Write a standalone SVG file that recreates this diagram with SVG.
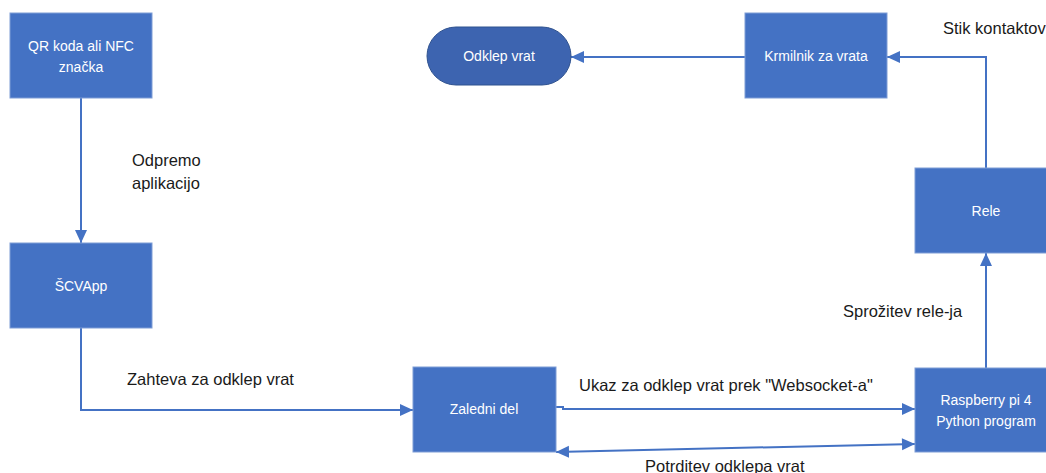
<svg xmlns="http://www.w3.org/2000/svg" width="1046" height="473" viewBox="0 0 1046 473">
<style>
.box{fill:#4472C4;stroke:#7E9DD6;stroke-width:1}
.pill{fill:#3D64B0;stroke:#2F528F;stroke-width:1}
.bt{font-family:"Liberation Sans",Arial,sans-serif;font-size:14px;fill:#ffffff;text-anchor:middle}
.lbl{font-family:"Liberation Sans",Arial,sans-serif;font-size:16.5px;fill:#1a1a1a}
.con{fill:none;stroke:#4472C4;stroke-width:2}
</style>
<defs>
<marker id="ah" markerUnits="userSpaceOnUse" markerWidth="14" markerHeight="14" refX="13" refY="7" orient="auto">
<path d="M0,1 L13,7 L0,13 Z" fill="#4472C4"/>
</marker>
<marker id="as" markerUnits="userSpaceOnUse" markerWidth="14" markerHeight="14" refX="0" refY="7" orient="auto">
<path d="M13,1 L0,7 L13,13 Z" fill="#4472C4"/>
</marker>
</defs>
<rect width="1046" height="473" fill="#ffffff"/>
<g id="connectors">
<path class="con" d="M81,98 V243" marker-end="url(#ah)"/>
<path class="con" d="M81,328 V410 H413" marker-end="url(#ah)"/>
<path class="con" d="M556,407 H563 V409 H915" marker-end="url(#ah)"/>
<path class="con" d="M915,444 L556,452" marker-start="url(#as)" marker-end="url(#ah)"/>
<path class="con" d="M986,368 V253" marker-end="url(#ah)"/>
<path class="con" d="M986,168 V57 H887" marker-end="url(#ah)"/>
<path class="con" d="M745,57 H571" marker-end="url(#ah)"/>
</g>
<g id="qr">
<rect class="box" x="10" y="13" width="142" height="85"/>
<text class="bt" x="81" y="51">QR koda ali NFC</text>
<text class="bt" x="81" y="72">značka</text>
</g>
<g id="scvapp">
<rect class="box" x="10" y="243" width="142" height="85"/>
<text class="bt" x="81" y="291">ŠCVApp</text>
</g>
<g id="zaledni">
<rect class="box" x="413" y="367" width="143" height="85"/>
<text class="bt" x="484" y="414">Zaledni del</text>
</g>
<g id="raspberry">
<rect class="box" x="915" y="368" width="140" height="84"/>
<text class="bt" x="986" y="405">Raspberry pi 4</text>
<text class="bt" x="986" y="426">Python program</text>
</g>
<g id="rele">
<rect class="box" x="915" y="168" width="140" height="85"/>
<text class="bt" x="986" y="216">Rele</text>
</g>
<g id="krmilnik">
<rect class="box" x="745" y="13" width="142" height="85"/>
<text class="bt" x="816" y="61">Krmilnik za vrata</text>
</g>
<g id="odklep">
<rect class="pill" x="427" y="27" width="144" height="58" rx="29" ry="29"/>
<text class="bt" x="499" y="61">Odklep vrat</text>
</g>
<g id="labels">
<text class="lbl" x="132" y="166">Odpremo</text>
<text class="lbl" x="132" y="189">aplikacijo</text>
<text class="lbl" x="127" y="385">Zahteva za odklep vrat</text>
<text class="lbl" x="579" y="391">Ukaz za odklep vrat prek "Websocket-a"</text>
<text class="lbl" x="645" y="472">Potrditev odklepa vrat</text>
<text class="lbl" x="843" y="317">Sprožitev rele-ja</text>
<text class="lbl" x="943" y="34">Stik kontaktov</text>
</g>
</svg>
